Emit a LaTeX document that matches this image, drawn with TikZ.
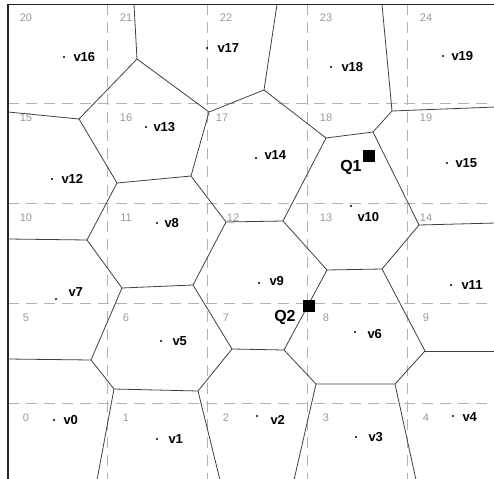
\documentclass[tikz,border=0pt]{standalone}
\usepackage{fontspec}
\setmainfont{Liberation Sans}
\usetikzlibrary{positioning}
\tikzset{site_t/.style={circle, fill=black, inner sep=0pt, minimum size=2.2pt},
lbl_t/.style={font=\fontsize{13}{13}\selectfont\bfseries, inner sep=0pt},
num_t/.style={font=\fontsize{11}{11}\selectfont, text=black!40, inner sep=0pt},
query_t/.style={rectangle, fill=black, inner sep=0pt, minimum size=12pt},
qlbl_t/.style={font=\fontsize{16}{16}\selectfont\bfseries, inner sep=0pt},
grid_t/.style={dash pattern=on 11pt off 7pt, black!30, line width=0.9pt},
edge_v/.style={black!75, line width=0.8pt},
frame_t/.style={black!85, line width=1.4pt}}

\begin{document}
\begin{tikzpicture}[x=1pt, y=-1pt]
  \useasboundingbox (0,0) rectangle (494,478);
  % grid
  \foreach \i in {1,...,4} {
    \draw[grid_t] (7.5+100*\i, 4.5) -- (7.5+100*\i, 480);
    \draw[grid_t] (8, 3.5+100*\i) -- (496, 3.5+100*\i);
  }
  % cell numbers
  \foreach \r in {0,...,4} {
    \foreach \c in {0,...,4} {
      \pgfmathtruncatemacro{\n}{5*\r+\c}
      \ifnum\n=12 \else\ifnum\n=17 \else
        \node[num_t] (n\n) at (26+100*\c, 417.5-100*\r) {\n};
      \fi\fi
    }
  }
  \node[num_t] (n12) at (233,217.5) {12};
  \node[num_t] (n17) at (222,117.5) {17};
  % frame
  \coordinate (corner) at (8,4.5);
  \coordinate (ftop) at (496,4.5);
  \coordinate (fbot) at (8,480);
  \draw[frame_t] (fbot) -- (corner) -- (ftop);
  % voronoi vertices
  \coordinate (pa) at (137,59);  \coordinate (pb) at (79,119);
  \coordinate (pc) at (209,112); \coordinate (pd) at (264,90);
  \coordinate (pe) at (117,183); \coordinate (pf) at (191,176);
  \coordinate (pg) at (226,222); \coordinate (ph) at (326,138);
  \coordinate (pi) at (373,132); \coordinate (pj) at (392,111);
  \coordinate (pk) at (283,221); \coordinate (pl) at (419,225);
  \coordinate (pm) at (87,240);  \coordinate (pn) at (122,288);
  \coordinate (po) at (193,285); \coordinate (pp) at (232,349);
  \coordinate (pr) at (91,360);  \coordinate (ps) at (114,389);
  \coordinate (pt) at (198,391); \coordinate (pu) at (327,270);
  \coordinate (pv) at (382,269); \coordinate (pw) at (284,350);
  \coordinate (px) at (316,384); \coordinate (py) at (395,384);
  \coordinate (pz) at (425,351);
  % open ends on the border
  \coordinate (top1) at (134,4.5); \coordinate (top2) at (277,4.5); \coordinate (top3) at (382,4.5);
  \coordinate (lft1) at (8,112);   \coordinate (lft2) at (8,239);   \coordinate (lft3) at (8,359);
  \coordinate (rgt1) at (496,107); \coordinate (rgt2) at (496,223); \coordinate (rgt3) at (496,351);
  \coordinate (bot1) at (97,480);  \coordinate (bot2) at (220,480);
  \coordinate (bot3) at (294,480); \coordinate (bot4) at (416,480);
  % cell edges
  \draw[edge_v] (top1) -- (pa) -- (pc) -- (pd) -- (top2);
  \draw[edge_v] (lft1) -- (pb) -- (pa);
  \draw[edge_v] (pb) -- (pe) -- (pf) -- (pc);
  \draw[edge_v] (pd) -- (ph) -- (pi) -- (pj) -- (top3); \draw[edge_v] (pj) -- (rgt1);
  \draw[edge_v] (pf) -- (pg) -- (pk) -- (ph);
  \draw[edge_v] (pi) -- (pl) -- (rgt2);
  \draw[edge_v] (pe) -- (pm) -- (lft2);
  \draw[edge_v] (pm) -- (pn) -- (po) -- (pg);
  \draw[edge_v] (pk) -- (pu) -- (pv) -- (pl);
  \draw[edge_v] (po) -- (pp) -- (pw) -- (pu);
  \draw[edge_v] (pn) -- (pr) -- (lft3);
  \draw[edge_v] (pr) -- (ps) -- (pt) -- (pp);
  \draw[edge_v] (pw) -- (px) -- (py) -- (pz) -- (pv); \draw[edge_v] (pz) -- (rgt3);
  \draw[edge_v] (ps) -- (bot1); \draw[edge_v] (pt) -- (bot2);
  \draw[edge_v] (px) -- (bot3); \draw[edge_v] (py) -- (bot4);
  % sites
  \node[site_t] (v0) at (54,420) {};   \node[lbl_t, right=8pt of v0] {v0};
  \node[site_t] (v1) at (157,439) {};  \node[lbl_t, right=10pt of v1] {v1};
  \node[site_t] (v2) at (257,416) {};  \node[lbl_t, right=12pt of v2, yshift=-4pt] {v2};
  \node[site_t] (v3) at (356,437) {};  \node[lbl_t, right=11pt of v3] {v3};
  \node[site_t] (v4) at (453,416) {};  \node[lbl_t, right=8pt of v4, yshift=-1pt] {v4};
  \node[site_t] (v5) at (161,341) {};  \node[lbl_t, right=10pt of v5] {v5};
  \node[site_t] (v6) at (355,332) {};  \node[lbl_t, right=11pt of v6, yshift=-2pt] {v6};
  \node[site_t] (v7) at (56,299) {};   \node[lbl_t, right=11pt of v7, yshift=7pt] {v7};
  \node[site_t] (v8) at (157,223) {};  \node[lbl_t, right=6pt of v8] {v8};
  \node[site_t] (v9) at (259,283) {};  \node[lbl_t, right=9pt of v9, yshift=2pt] {v9};
  \node[site_t] (v10) at (351,206) {}; \node[lbl_t, right=5pt of v10, yshift=-11pt] {v10};
  \node[site_t] (v11) at (451,285) {}; \node[lbl_t, right=9pt of v11] {v11};
  \node[site_t] (v12) at (52,179) {};  \node[lbl_t, right=8pt of v12] {v12};
  \node[site_t] (v13) at (146,127) {}; \node[lbl_t, right=6pt of v13] {v13};
  \node[site_t] (v14) at (256,158) {}; \node[lbl_t, right=7pt of v14, yshift=3pt] {v14};
  \node[site_t] (v15) at (447,163) {}; \node[lbl_t, right=7pt of v15] {v15};
  \node[site_t] (v16) at (64,57) {};   \node[lbl_t, right=8pt of v16] {v16};
  \node[site_t] (v17) at (207,48) {};  \node[lbl_t, right=9pt of v17] {v17};
  \node[site_t] (v18) at (331,67) {};  \node[lbl_t, right=9pt of v18] {v18};
  \node[site_t] (v19) at (443,56) {};  \node[lbl_t, right=7pt of v19] {v19};
  % queries
  \node[query_t] (q1) at (369,156) {};
  \node[qlbl_t, left=1pt of q1, yshift=-11pt] {Q1};
  \node[query_t] (q2) at (309,306) {};
  \node[qlbl_t, left=7pt of q2, yshift=-11pt] {Q2};
\end{tikzpicture}
\end{document}
